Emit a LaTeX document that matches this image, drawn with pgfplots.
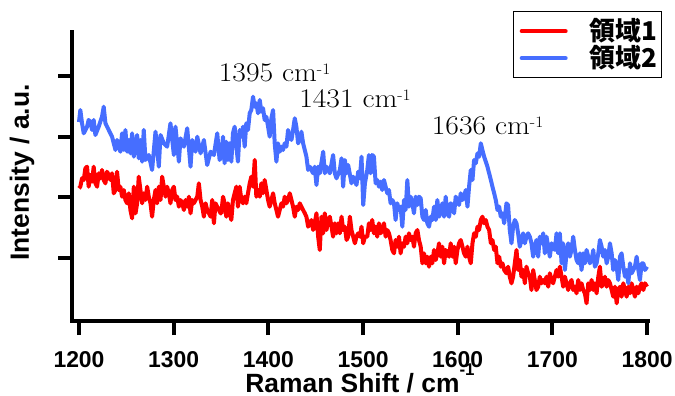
\documentclass[border=0pt]{standalone}
\usepackage{fontspec}
\usepackage{graphicx}
\usepackage{pgfplots}
\usepackage{pgfplotstable}
\pgfplotsset{compat=1.18}
\newfontfamily\arial{Liberation Sans}
\newfontfamily\cjk{Noto Sans CJK JP}
\definecolor{specred}{RGB}{255,0,0}
\definecolor{specblue}{RGB}{70,110,255}
\newcommand{\peak}[1]{\scalebox{1.1}[1]{#1 cm\raisebox{7.5bp}{\fontsize{16}{16}\selectfont -1}}}

\pgfplotstableread{
x y
1200 199
1201.4 211
1203.2 197.7
1205 187.7
1208.5 194.3
1210.2 201
1212 199.3
1213.8 191
1215.5 201
1217.3 186
1220.8 194.3
1224.3 204.3
1226.1 214.3
1227.9 197.7
1231.4 191
1234.9 184.3
1236.7 177.7
1238.5 171
1240.2 181
1243.7 169.3
1245.5 187.7
1247.3 171
1249 191
1250.8 169.3
1252.6 181
1254.3 167.7
1256.1 187.7
1257.9 164.3
1261.4 186
1263.1 162.7
1264.9 181
1266.7 159.3
1268.4 191
1270.2 161
1273.7 166
1277.2 151
1280.8 189.3
1284.3 154.3
1286.1 186
1289.6 177.7
1293.1 174.3
1296.6 197.7
1300.2 166
1301.9 194.3
1305.5 159.3
1307.2 182.7
1310.8 174.3
1314.3 192.7
1317.8 154.3
1319.6 181
1323.1 169.3
1324.9 184.3
1328.4 167.7
1331.9 181
1335.4 156
1339 169.3
1342.5 166
1346 187.7
1348.5 161
1350.3 164.3
1352.1 184.3
1353.8 157.7
1355.6 179.3
1357.3 161
1359.1 177.7
1360.9 159.3
1362.6 187.7
1364.4 194.3
1366.2 174.3
1367.9 159.3
1369.7 191
1371.5 184.3
1373.2 194.3
1375 174.3
1376.7 197.7
1378.5 191
1380.3 207.7
1382 211
1383.8 224.3
1385.6 214.3
1387.3 217.7
1389.1 207.7
1390.9 221
1392.6 209.3
1394.4 212.7
1396.1 201
1397.9 204.3
1399.7 194.3
1401.4 184.3
1403.2 202.7
1405 211
1406.7 177.7
1408.5 159.3
1410.2 177.7
1412 169.3
1413.8 174.3
1415.5 171
1417.3 177.7
1419.1 174.3
1420.8 191
1422.6 184.3
1424.4 181
1426.1 191
1427.9 202.7
1429.6 194.3
1431.4 177.7
1433.2 181
1434.9 189.3
1436.7 177.7
1438.5 171
1440.2 164.3
1442 151
1443.8 154.3
1445.5 151
1447.3 147.7
1449 154.3
1450.8 136
1452.6 154.3
1454.3 147.7
1457.9 169.3
1459.6 147.7
1461.4 154.3
1464.9 147.7
1468.4 166
1470.2 147.7
1472 142.7
1475.5 151
1477.3 162.7
1479 134.3
1480.8 161
1482.6 147.7
1484.3 156
1487.8 137.7
1489.6 144.3
1493.1 136
1494.9 149.3
1496.7 142.7
1498.4 164.3
1500.2 116
1502 137.7
1504.5 151
1506.2 166
1508 147.7
1509.7 166
1511.5 164.3
1513.3 137.7
1515 141
1516.8 134.3
1518.6 139.3
1520.3 131
1522.1 141
1523.9 134.3
1525.6 127.7
1527.4 131
1529.1 117.7
1530.9 121
1532.7 117.7
1534.4 101
1536.2 117.7
1538 111
1539.7 114.3
1541.5 94.3
1543.3 121
1545 111
1546.8 141
1548.5 114.3
1550.3 124.3
1552.1 117.7
1553.8 107.7
1555.6 124.3
1557.4 116
1559.1 124.3
1560.9 122.7
1562.7 104.3
1564.4 101
1566.2 111
1567.9 97.7
1569.7 94.3
1571.5 104.3
1573.2 101
1575 114.3
1576.8 101
1578.5 121
1580.3 104.3
1582.1 109.3
1583.8 117.7
1585.6 104.3
1587.3 124.3
1589.1 107.7
1590.9 104.3
1592.6 117.7
1594.4 116
1596.2 107.7
1597.9 124.3
1599.7 121
1601.4 116
1603.2 127.7
1605 121
1606.7 124.3
1608.5 131
1610.3 114.3
1612 134.3
1613.8 151
1615.6 141
1617.3 161
1619.1 157.7
1620.9 167.7
1622.6 164.3
1624.4 177.7
1626.1 171
1627.9 164.3
1629.7 159.3
1631.4 154.3
1633.2 147.7
1635 141
1636.7 134.3
1638.5 127.7
1640.2 121
1642 111
1643.8 114.3
1645.5 104.3
1647.3 107.7
1649.1 97.7
1651.5 117.7
1653.2 116
1655 91
1656.8 77.7
1658.5 94.3
1660.3 101
1662.1 97.7
1663.8 87.7
1665.6 74.3
1667.3 81
1669.1 87.7
1670.9 77.7
1672.6 84.3
1674.4 87.7
1676.2 84.3
1677.9 77.7
1679.7 64.3
1681.4 74.3
1683.2 81
1685 64.3
1686.7 84.3
1688.5 77.7
1690.3 87.7
1692 67.7
1693.8 84.3
1695.6 74.3
1697.3 64.3
1699.1 77.7
1700.8 74.3
1702.6 71
1704.4 87.7
1706.1 67.7
1707.9 87.7
1709.7 57.7
1711.4 77.7
1713.2 51
1715 67.7
1716.7 77.7
1718.5 64.3
1720.2 71
1722 84.3
1723.8 71
1725.5 61
1727.3 57.7
1729.1 67.7
1730.8 51
1732.6 67.7
1734.3 57.7
1736.1 71
1737.9 64.3
1739.6 57.7
1741.4 61
1743.2 71
1744.9 54.3
1746.7 57.7
1748.5 67.7
1750.2 81
1752 74.3
1753.7 64.3
1755.5 71
1757.3 57.7
1759 64.3
1760.8 77.7
1762.6 67.7
1764.3 51
1766.1 61
1767.9 54.3
1769.6 41
1771.4 64.3
1773.1 67.7
1774.9 54.3
1776.7 44.3
1778.4 51
1780.2 37.7
1782 57.7
1783.7 47.7
1785.5 51
1787.2 54.3
1789 64.3
1790.8 51
1792.5 41
1794.3 57.7
1796.1 57.7
1797.8 51
1800 54.3
}\blueseries

\pgfplotstableread{
x y
1200 132.7
1201.4 134.3
1203.2 142.7
1205 141
1206.7 152.7
1208.5 154.3
1210.2 134.3
1212 146
1213.8 139.3
1215.5 154.3
1217.3 137.7
1219.1 134.3
1220.8 147.7
1222.6 142.7
1224.3 151
1226.1 141
1227.9 137.7
1229.6 149.3
1231.4 146
1233.2 141
1234.9 147.7
1236.7 127.7
1238.5 131
1240.2 149.3
1242 131
1243.7 134.3
1245.5 124.3
1247.3 131
1249 121
1250.8 117.7
1252.6 127.7
1254.3 111
1256.1 102.7
1257.9 134.3
1259.7 107.7
1261.4 117.7
1263.1 144.3
1264.9 131
1266.7 117.7
1268.4 127.7
1270.2 121
1272 134.3
1273.7 124.3
1275.5 117.7
1277.2 104.3
1279 121
1280.8 131
1282.5 117.7
1284.3 134.3
1286.1 121
1287.8 144.3
1289.6 134.3
1291.4 124.3
1293.1 134.3
1294.9 127.7
1296.6 117.7
1298.4 131
1300.2 134.3
1301.9 121
1303.7 124.3
1305.5 114.3
1307.2 121
1309 117.7
1310.8 111
1312.5 121
1314.3 114.3
1316.1 124.3
1317.8 107.7
1319.6 121
1321.3 117.7
1323.1 121
1324.9 124.3
1326.6 137.7
1328.4 121
1330.2 114.3
1331.9 104.3
1333.7 117.7
1335.4 111
1337.2 107.7
1339 104.3
1340.7 121
1342.5 97.7
1344.2 117.7
1346 114.3
1347.8 111
1349.5 107.7
1350.3 107.7
1352.1 124.3
1353.8 117.7
1355.6 104.3
1357.3 117.7
1359.1 107.7
1360.9 101
1362.6 121
1364.4 127.7
1366.2 134.3
1367.9 114.3
1369.7 134.3
1371.5 121
1373.2 117.7
1375 124.3
1376.7 117.7
1378.5 127.7
1380.3 137.7
1382 144.3
1383.8 134.3
1385.6 161
1387.3 124.3
1389.1 131
1390.9 124.3
1392.6 137.7
1394.4 127.7
1396.1 141
1397.9 131
1399.7 121
1401.4 114.3
1403.2 121
1405 127.7
1406.7 117.7
1408.5 111
1410.2 104.3
1412 111
1413.8 117.7
1415.5 114.3
1417.3 124.3
1419.1 117.7
1420.8 121
1422.6 127.7
1424.4 121
1426.1 114.3
1427.9 104.3
1429.6 114.3
1431.4 111
1433.2 117.7
1434.9 114.3
1436.7 111
1438.5 107.7
1440.2 104.3
1442 94.3
1443.8 97.7
1445.5 101
1447.3 91
1449 97.7
1450.8 107.7
1452.6 84.3
1454.3 71
1456.1 104.3
1457.9 87.7
1459.6 107.7
1461.4 91
1463.2 101
1464.9 104.3
1466.7 94.3
1468.4 84.3
1470.2 97.7
1472 87.7
1473.7 97.7
1475.5 87.7
1477.3 104.3
1479 91
1480.8 94.3
1482.6 81
1484.3 84.3
1486.1 104.3
1487.8 91
1489.6 84.3
1491.4 77.7
1493.1 84.3
1494.9 87.7
1496.7 84.3
1498.4 94.3
1500.2 77.7
1502 84.3
1504.5 84.3
1506.2 97.7
1508 91
1509.7 101
1511.5 87.7
1513.3 94.3
1515 84.3
1516.8 97.7
1518.6 87.7
1520.3 91
1522.1 97.7
1523.9 84.3
1525.6 91
1527.4 87.7
1529.1 81
1530.9 71
1532.7 67.7
1534.4 81
1536.2 74.3
1538 84.3
1539.7 67.7
1541.5 77.7
1543.3 74.3
1545 84.3
1546.8 77.7
1548.5 87.7
1550.3 81
1552.1 84.3
1553.8 74.3
1555.6 87.7
1557.4 91
1559.1 81
1560.9 74.3
1562.7 57.7
1564.4 67.7
1566.2 57.7
1567.9 64.3
1569.7 54.3
1571.5 64.3
1573.2 57.7
1575 71
1576.8 61
1578.5 67.7
1580.3 77.7
1582.1 64.3
1583.8 74.3
1585.6 57.7
1587.3 71
1589.1 67.7
1590.9 64.3
1592.6 77.7
1594.4 64.3
1596.2 74.3
1597.9 57.7
1599.7 71
1601.4 77.7
1603.2 81
1605 74.3
1606.7 67.7
1608.5 64.3
1610.3 74.3
1612 64.3
1613.8 57.7
1615.6 77.7
1617.3 87.7
1619.1 84.3
1620.9 94.3
1622.6 91
1624.4 101
1626.1 104.3
1627.9 97.7
1629.7 101
1631.4 94.3
1633.2 91
1635 77.7
1636.7 81
1638.5 71
1640.2 74.3
1642 57.7
1643.8 64.3
1645.5 54.3
1647.3 57.7
1649.1 51
1651.5 47.7
1653.2 54.3
1655 44.3
1656.8 37.7
1658.5 44.3
1660.3 57.7
1662.1 71
1663.8 51
1665.6 61
1667.3 44.3
1669.1 51
1670.9 37.7
1672.6 54.3
1674.4 47.7
1676.2 44.3
1677.9 31
1679.7 51
1681.4 41
1683.2 31
1685 34.3
1686.7 44.3
1688.5 37.7
1690.3 41
1692 37.7
1693.8 44.3
1695.6 34.3
1697.3 47.7
1699.1 41
1700.8 37.7
1702.6 44.3
1704.4 51
1706.1 44.3
1707.9 54.3
1709.7 44.3
1711.4 34.3
1713.2 44.3
1715 37.7
1716.7 31
1718.5 37.7
1720.2 41
1722 31
1723.8 34.3
1725.5 27.7
1727.3 41
1729.1 31
1730.8 37.7
1732.6 31
1734.3 27.7
1736.1 17.7
1737.9 37.7
1739.6 31
1741.4 41
1743.2 31
1744.9 37.7
1746.7 27.7
1748.5 44.3
1750.2 54.3
1752 34.3
1753.7 37.7
1755.5 44.3
1757.3 34.3
1759 41
1760.8 37.7
1762.6 31
1764.3 24.3
1766.1 34.3
1767.9 17.7
1769.6 31
1771.4 34.3
1773.1 24.3
1774.9 37.7
1776.7 31
1778.4 24.3
1780.2 34.3
1782 27.7
1783.7 37.7
1785.5 31
1787.2 24.3
1789 34.3
1790.8 27.7
1792.5 34.3
1794.3 37.7
1796.1 31
1797.8 37.7
1800 34.3
}\redseries

\begin{document}
\begin{tikzpicture}
\begin{axis}[
  at={(72bp,75bp)}, anchor=south west,
  scale only axis, width=576bp, height=289bp,
  xmin=1192.6, xmax=1801, ymin=0, ymax=289,
  axis x line*=bottom, axis y line*=left,
  axis line style={line width=4.5bp, line cap=rect, black},
  xtick={1200,1300,1400,1500,1600,1700,1800},
  ytick={63.2,123.7,184.2,244.7}, yticklabels={},
  tick align=outside, major tick length=14bp,
  tick style={line width=4bp, black},
  /pgf/number format/assume math mode=true,
  /pgf/number format/1000 sep={},
  xticklabel style={font=\arial\bfseries\fontsize{23}{23}\selectfont, yshift=-13bp},
  xlabel={Raman Shift / cm\raisebox{17bp}{\fontsize{17}{17}\selectfont -1}},
  xlabel style={at={(axis description cs:0.5,-0.2457)}, anchor=base, font=\arial\bfseries\fontsize{26.5}{26.5}\selectfont},
  ylabel={Intensity / a.u.},
  ylabel style={at={(axis description cs:-0.0868,0.514)}, anchor=center, font=\arial\bfseries\fontsize{26.5}{26.5}\selectfont},
  legend style={at={(axis description cs:1.0243,1.0727)}, anchor=north east,
    draw=black, line width=1.5bp, fill=white,
    inner xsep=2bp, inner ysep=6bp, row sep=0bp,
    nodes={inner ysep=2bp, text height=21bp, text depth=2bp},
    font=\cjk\bfseries\fontsize{26}{26}\selectfont,
    /tikz/every odd column/.append style={column sep=20bp}},
  legend cell align=left,
  legend image code/.code={\path (0bp,0bp); \draw[#1, line width=4bp, line cap=round] (4bp,0bp) -- (48bp,0bp);},
  clip=false,
]
\addplot[specred, line width=4bp, line join=round] table[x=x,y=y] {\redseries};
\addlegendentry{領域1}
\addplot[specblue, line width=4bp, line join=round] table[x=x,y=y] {\blueseries};
\addlegendentry{領域2}
\node[anchor=base west, font=\fontsize{27}{27}\selectfont, inner sep=0pt] at (axis cs:1347.5,239) {\peak{1395}};
\node[anchor=base west, font=\fontsize{27}{27}\selectfont, inner sep=0pt] at (axis cs:1432.5,213) {\peak{1431}};
\node[anchor=base west, font=\fontsize{27}{27}\selectfont, inner sep=0pt] at (axis cs:1572.5,186) {\peak{1636}};
\end{axis}
\pgfresetboundingbox
\useasboundingbox (0bp,0bp) rectangle (675bp,396bp);
\end{tikzpicture}
\end{document}
